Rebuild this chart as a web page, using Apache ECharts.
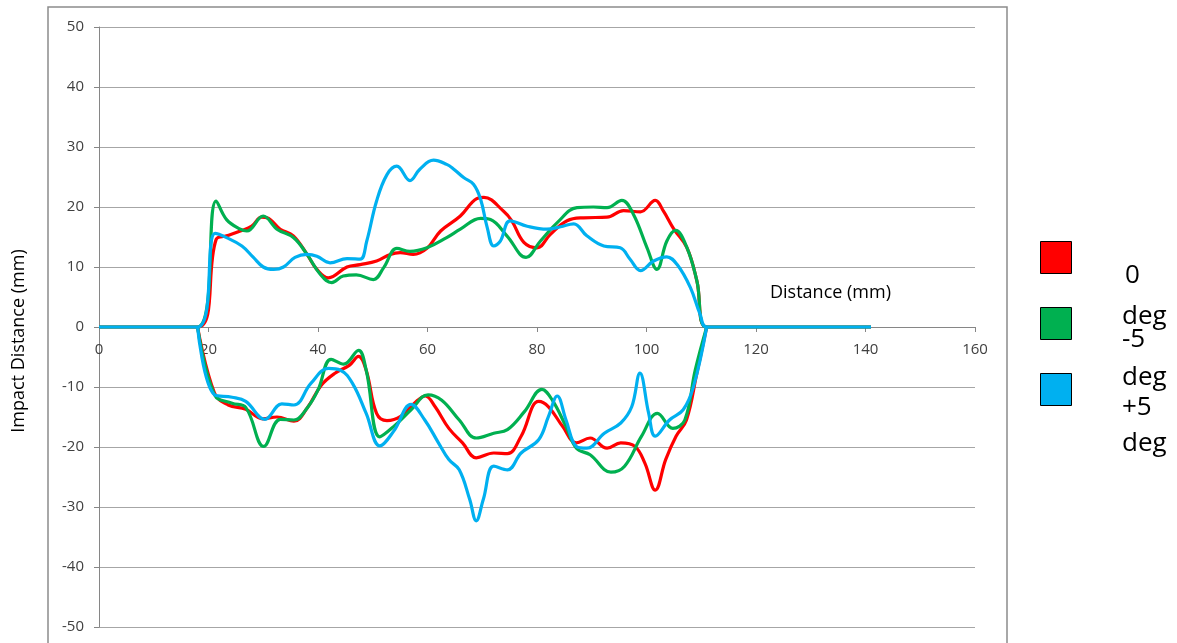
<!DOCTYPE html>
<html>
<head>
<meta charset="utf-8">
<script src="https://cdn.jsdelivr.net/npm/echarts@6/dist/echarts.min.js"></script>
<style>
  html, body { margin: 0; padding: 0; background: #fff; }
  #main { width: 1177px; height: 643px; }
</style>
</head>
<body>
<div id="main"></div>
<script>
// profiles, [distance, impact distance]
const redUpper = [[0,0],[18,0],[21.4,14.6],[23.3,15.2],[25.8,16],[27.9,16.8],[29.7,18.3],[30.7,18.2],[33.1,16.3],[35.5,15.2],[38,12.1],[39.8,9.6],[41.9,8.2],[45.3,10],[47.7,10.4],[50.7,11],[53.2,12.1],[55,12.4],[57.4,12.1],[59.9,13.1],[62.4,16],[66,18.5],[69,21.4],[70.3,21.6],[73.9,19.3],[75.4,17.7],[77.6,14.1],[80,13.2],[82.4,15.4],[85.5,17.7],[88.5,18.2],[92.8,18.3],[95.8,19.4],[98.9,19.2],[101.6,21.1],[103.1,19.3],[105,16.3],[107.4,13.2],[109.2,7.7],[111,0],[141,0]];
const greenUpper = [[0,0],[18,0],[21.4,21],[23.3,17.9],[25.8,16.3],[27,16],[30,18.5],[32.5,16.3],[35.5,14.9],[38,12.1],[40.4,8.8],[42.5,7.4],[44.6,8.5],[47,8.7],[50.1,7.9],[52,9.9],[54.4,13.1],[56.8,12.6],[59.9,13.2],[63.5,14.9],[66,16.3],[69.7,18.1],[71.5,17.9],[74.5,15.2],[78,11.6],[80.6,14.3],[83.7,17.4],[87.3,19.9],[90.3,20],[92.8,19.9],[95.5,21.1],[97.6,18.8],[100.1,13.2],[101.9,9.6],[103.7,14.3],[105.3,16.1],[107.4,13.2],[109.2,7.7],[111,0],[141,0]];
const blueUpper = [[0,0],[18,0],[21.2,15.6],[23.3,14.9],[26.1,13.5],[28.2,11.6],[30,10],[31.9,9.6],[33.7,10],[35.8,11.6],[38,12.1],[39.8,11.8],[42.2,10.7],[45.3,11.4],[47.7,11.3],[48.9,14.3],[50.7,21],[52.6,25.4],[54.4,26.8],[56.8,24.4],[58.6,26.3],[61.1,27.8],[63.5,27.1],[64.8,26.3],[66.6,24.9],[68.4,23.8],[69.7,21.3],[70.9,16.6],[72.1,13.5],[73.3,14.3],[75.1,17.7],[78.2,16.8],[81.8,16.3],[84.3,16.7],[86.7,17.2],[89.1,15.2],[92.2,13.5],[95.2,13.2],[97,11.3],[98.9,9.4],[101.3,11],[103.7,11.7],[105.6,10.4],[108,6.6],[109.8,2.1],[111,0],[141,0]];

const redLower = [[18,0],[21.1,-11],[23.6,-13],[26.8,-13.7],[29.9,-15.3],[32.5,-15],[35.6,-15.7],[38.1,-13.4],[40.6,-9.7],[43.1,-7.7],[45.7,-6.4],[47.4,-4.9],[48.8,-7.2],[50.7,-14.4],[52.6,-15.6],[55.1,-14.9],[57.6,-12.7],[59.6,-11.5],[61.4,-13.3],[63.9,-16.9],[66.4,-19.3],[68.9,-21.8],[72.1,-21],[74.6,-21.1],[77.1,-18.2],[80.3,-12.4],[82.1,-13.3],[84.7,-16.6],[87.2,-19.3],[89.7,-18.5],[92.8,-20.2],[95.3,-19.3],[97.9,-19.9],[99.7,-22.7],[101.6,-27.2],[103.5,-22.1],[105.4,-18.2],[107.3,-15.5],[109.2,-7.7],[111,0]];
const greenLower = [[18,0],[21.1,-11.3],[24.3,-12.7],[26.8,-13.4],[30.1,-19.9],[33.1,-15.4],[35.6,-15.5],[38.1,-13.4],[40,-10.5],[42.4,-5.4],[44.7,-6.2],[47.4,-3.9],[48.8,-7.2],[51.3,-18.3],[53.8,-16.6],[57,-13.8],[60.1,-11.3],[62.6,-12.2],[65.8,-15.5],[68.9,-18.5],[72.1,-17.7],[74.6,-17.1],[77.7,-14.1],[80.9,-10.4],[82.8,-12.2],[85.3,-16.6],[87.2,-20.2],[89.7,-21.3],[93.5,-24.2],[96,-23.2],[99.1,-18.2],[102,-14.4],[104.8,-16.9],[107,-15.5],[108.9,-7.2],[111,0]];
const blueLower = [[18,0],[21.1,-11.3],[24.3,-11.7],[26.8,-12.4],[30.3,-15.4],[33.4,-12.8],[35.6,-13],[38.7,-9.4],[41.9,-6.9],[44.1,-7.2],[46.3,-9.4],[48.8,-14.4],[51.3,-19.8],[53.8,-17.4],[57,-12.9],[59.5,-15.5],[62,-19.3],[63.9,-22.1],[65.8,-23.8],[67.7,-28.7],[68.9,-32.3],[70.2,-28.7],[72.1,-23.2],[74.6,-23.8],[77.1,-21],[80.3,-18.8],[82.1,-14.9],[83.7,-11.5],[85.3,-15.5],[87.2,-19.9],[89.1,-20.2],[92.3,-17.7],[95.3,-16],[97.3,-13.3],[98.8,-7.7],[100.4,-14.4],[101.6,-18.2],[104.2,-15.5],[106.7,-13.8],[108.6,-9.9],[111,0]];

const seriesNames = ['0 deg', '-5 deg', '+5 deg'];
const seriesColors = ['#ff0000', '#00b050', '#00b0f0'];

const chart = echarts.init(document.getElementById('main'));
const font = '"Open Sans", sans-serif';

const curves = [
  [redUpper, redLower],
  [greenUpper, greenLower],
  [blueUpper, blueLower]
];
const series = [];
curves.forEach((pair, i) => {
  pair.forEach(data => {
    series.push({
      name: seriesNames[i],
      type: 'line',
      data: data,
      smooth: 0.4,
      symbol: 'none',
      color: seriesColors[i],
      lineStyle: { color: seriesColors[i], width: 3.2 }
    });
  });
});

// legend labels wrap oddly in the original, drawn by hand
const legendText = [
  { text: '0', x: 1125, y: 263 },
  { text: 'deg', x: 1122, y: 304 },
  { text: '-5', x: 1122, y: 327 },
  { text: 'deg', x: 1122, y: 365 },
  { text: '+5', x: 1122, y: 395 },
  { text: 'deg', x: 1122, y: 431 }
].map(t => ({
  type: 'text',
  x: t.x,
  y: t.y,
  style: { text: t.text, font: '26px ' + font, fill: '#000', textVerticalAlign: 'top' }
}));

const option = {
  animation: false,
  backgroundColor: '#fff',
  grid: { left: 99, right: 202, top: 27, bottom: 16, outerBoundsMode: 'none' },
  xAxis: {
    type: 'value',
    min: 0,
    max: 160,
    interval: 20,
    offset: -300,
    axisLine: { onZero: false, lineStyle: { color: '#868686', width: 1 } },
    axisTick: { show: true, length: 5, lineStyle: { color: '#868686' } },
    axisLabel: { margin: 15, color: '#404040', fontSize: 15, fontFamily: font },
    splitLine: { show: false }
  },
  yAxis: {
    type: 'value',
    min: -50,
    max: 50,
    interval: 10,
    axisLine: { show: true, lineStyle: { color: '#868686', width: 1 } },
    axisTick: { show: true, length: 5, lineStyle: { color: '#868686' } },
    axisLabel: { margin: 15, color: '#404040', fontSize: 15, fontFamily: font },
    splitLine: { show: true, lineStyle: { color: '#a6a6a6', width: 1 } }
  },
  legend: {
    orient: 'vertical',
    left: 1040,
    top: 241,
    padding: 0,
    itemWidth: 31,
    itemHeight: 32,
    itemGap: 33,
    icon: 'rect',
    itemStyle: { borderColor: '#000', borderWidth: 1 },
    formatter: () => ' ',
    data: seriesNames
  },
  graphic: [
    {
      type: 'rect',
      shape: { x: 48, y: 7, width: 959, height: 700 },
      style: { fill: 'none', stroke: '#8c8c8c', lineWidth: 1.5 },
      silent: true
    },
    {
      type: 'text',
      x: 770,
      y: 293,
      style: { text: 'Distance (mm)', font: '18px ' + font, fill: '#000', textVerticalAlign: 'middle' }
    },
    {
      type: 'text',
      x: 19,
      y: 341,
      rotation: Math.PI / 2,
      style: { text: 'Impact Distance (mm)', font: '18px ' + font, fill: '#000', textAlign: 'center', textVerticalAlign: 'middle' }
    }
  ].concat(legendText),
  series: series
};

chart.setOption(option);
</script>
</body>
</html>
